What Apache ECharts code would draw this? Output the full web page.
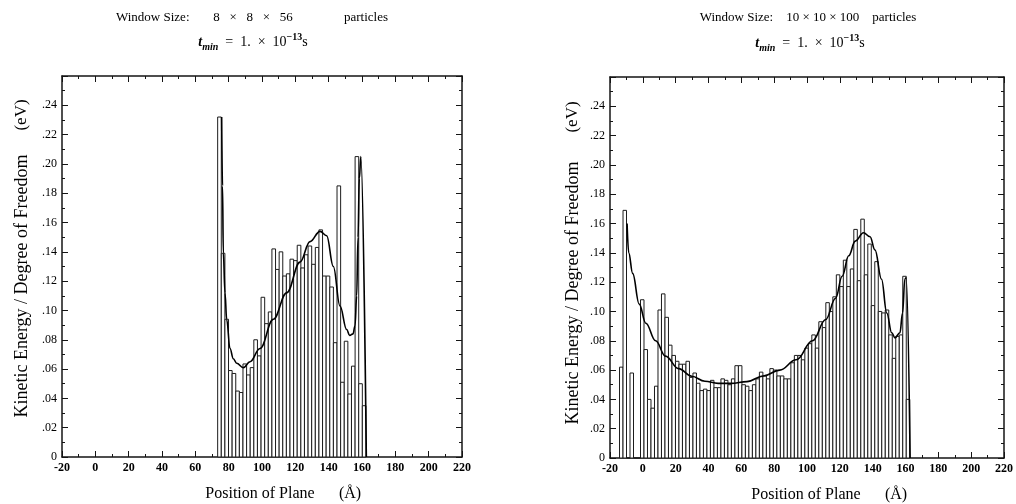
<!DOCTYPE html>
<html><head><meta charset="utf-8">
<script src="https://cdn.jsdelivr.net/npm/echarts@6/dist/echarts.min.js"></script>
<style>html,body{margin:0;padding:0;background:#fff}#c{width:1016px;height:504px}</style>
</head><body><div id="c"></div>
<script>
// ---------- data ----------
const xMin = -20, xMax = 220, xStep = 20;
const yMin = 0, yMax = 0.26, yStep = 0.02;

const titleLabel = 'Window Size:';
const leftWindow = '8   ×   8   ×   56';
const rightTitle = 'Window Size:    10 × 10 × 100    particles';
const titleUnit = 'particles';
const xName = 'Position of Plane';
const xUnit = '(Å)';
const yName = 'Kinetic Energy / Degree of Freedom';
const yUnit = '(eV)';

// left panel histogram (8x8x56)
const leftBinStart = 73.4;
const leftBinWidth = 2.17;
const leftHeights = [
  .232, .139, .094, .059, .057, .045, .044, .0635, .056, .061,
  .080, .069, .109, .091, .099, .142, .128, .140, .1235, .125,
  .135, .134, .1445, .129, .138, .144, .1315, .143, .155, .1235,
  .1235, .116, .078, .185, .051, .079, .043, .062, .205, .050,
  .035
];
const leftCurveX = [75.8, 76.3, 76.8, 77.8, 78.8, 80.8, 82.8, 84.8, 88.8, 92.8, 98.8, 106.8, 114.8, 122.8, 128.8, 134.8, 138.8, 142.8, 146.8, 150.8, 152.6, 154.6, 155.8, 156.8, 157.6, 158.4, 159.3, 162.6];
const leftCurveY = [.232, .185, .139, .112, .094, .074, .067, .064, .061, .065, .074, .094, .112, .133, .147, .154, .151, .130, .103, .087, .083, .084, .0895, .110, .150, .190, .205, 0];

// right panel histogram (10x10x100)
const rightBinStart = -14.2;
const rightBinWidth = 2.13;
const rightHeights = [
  .062, .169, 0, .058, 0, 0, .108, .074, .040, .034,
  .049, .101, .112, .096, .077, .070, .066, .064, .064, .066,
  .055, .058, .051, .046, .047, .046, .053, .048, .048, .054,
  .053, .050, .054, .063, .063, .050, .049, .046, .050, .054,
  .0586, .056, .054, .061, .060, .056, .056, .054, .054, .065,
  .070, .070, .067, .075, .078, .084, .075, .093, .089, .106,
  .100, .110, .125, .117, .135, .117, .129, .156, .121, .163,
  .125, .146, .104, .134, .100, .099, .101, .084, .068, .083,
  .084, .124, .040
];
const rightCurveX = [-9.6, -8.6, -6.2, -2.2, 1.8, 7.8, 13.8, 21.8, 29.8, 37.8, 45.8, 53.8, 63.4, 73.4, 83.4, 93.4, 103.4, 111.4, 117.4, 121.4, 125.4, 129.4, 134.4, 138.4, 141.4, 145.4, 148.6, 151.6, 153.6, 156.6, 158.2, 159.6, 160.4, 162.8];
const rightCurveY = [.160, .140, .126, .105, .092, .080, .0695, .061, .0558, .0524, .0509, .0509, .0521, .056, .060, .067, .080, .0945, .109, .124, .138, .148, .1537, .151, .142, .122, .099, .0855, .082, .0855, .099, .122, .123, 0];

// ---------- build ----------
const FONT = 'Liberation Serif';
const INK = '#141414';

function bins(start, width, heights) {
  return heights.map((h, i) => [start + i * width, start + (i + 1) * width, h]);
}
function pairs(xs, ys) { return xs.map((x, i) => [x, ys[i]]); }

const grids = [
  { left: 62, top: 76, width: 400, height: 381 },
  { left: 610, top: 77, width: 399, height: 381 }
];

function axisCommon(g, min, max, step) {
  return {
    type: 'value', gridIndex: g, min: min, max: max, interval: step,
    axisLine: { show: true, onZero: false, lineStyle: { color: INK, width: 1.5 } },
    axisTick: { show: true, inside: true, length: 6, lineStyle: { color: INK, width: 1 } },
    minorTick: { show: true, splitNumber: 2, length: 3, lineStyle: { color: INK, width: 1 } },
    splitLine: { show: false }, minorSplitLine: { show: false }
  };
}
function xAxes(g) {
  return [
    Object.assign(axisCommon(g, xMin, xMax, xStep), { position: 'bottom',
      axisLabel: { show: true, margin: 5, color: '#000', fontFamily: FONT, fontSize: 12, fontWeight: 'bold',
        showMinLabel: true, showMaxLabel: true } }),
    Object.assign(axisCommon(g, xMin, xMax, xStep), { position: 'top', axisLabel: { show: false } })
  ];
}
function yAxes(g) {
  return [
    Object.assign(axisCommon(g, yMin, yMax, yStep), { position: 'left',
      axisLabel: { show: true, margin: 5, color: '#000', fontFamily: FONT, fontSize: 12,
        formatter: v => v === 0 ? '0' : (v > 0.25 ? '' : v.toFixed(2).replace(/^0/, '')) } }),
    Object.assign(axisCommon(g, yMin, yMax, yStep), { position: 'right', axisLabel: { show: false } })
  ];
}

function histSeries(g, data) {
  return {
    type: 'custom', xAxisIndex: 2 * g, yAxisIndex: 2 * g, data: data, z: 2,
    encode: { x: [0, 1], y: 2 },
    renderItem: function (params, api) {
      const p0 = api.coord([api.value(0), api.value(2)]);
      const p1 = api.coord([api.value(1), 0]);
      return { type: 'rect',
        shape: { x: p0[0], y: p0[1], width: p1[0] - p0[0], height: p1[1] - p0[1] },
        style: { fill: '#fff', stroke: '#1c1c1c', lineWidth: 1 } };
    }
  };
}
function curveSeries(g, data) {
  return { type: 'line', xAxisIndex: 2 * g, yAxisIndex: 2 * g, data: data, z: 5,
    showSymbol: false, smooth: 0.4, smoothMonotone: 'x',
    lineStyle: { color: '#000', width: 1.6 } };
}

const LH = 20;
const tminRich = {
  n: { fontFamily: FONT, fontSize: 14, color: '#000', lineHeight: LH, verticalAlign: 'middle' },
  i: { fontFamily: FONT, fontSize: 14, fontStyle: 'italic', fontWeight: 'bold', color: '#000', lineHeight: LH, verticalAlign: 'middle' },
  sub: { fontFamily: FONT, fontSize: 10, fontStyle: 'italic', fontWeight: 'bold', color: '#000', lineHeight: LH, verticalAlign: 'bottom' },
  sup: { fontFamily: FONT, fontSize: 10, fontWeight: 'bold', color: '#000', lineHeight: LH, verticalAlign: 'top' }
};
const tminText = '{i|t}{sub|min}{n|  =  1.  ×  10}{sup|−13}{n|s}';

function txt(x, y, text, extra) {
  return { type: 'text', x: x, y: y,
    style: Object.assign({ text: text, fontFamily: FONT, fontSize: 16, fill: '#000', align: 'center', verticalAlign: 'middle' }, extra || {}) };
}
function rot(x, y, text, size) {
  return { type: 'text', x: x, y: y, rotation: Math.PI / 2,
    style: { text: text, fontFamily: FONT, fontSize: size, fill: '#000', align: 'center', verticalAlign: 'middle' } };
}

const graphic = [
  txt(116, 18, titleLabel, { fontSize: 13, align: 'left' }),
  txt(253, 18, leftWindow, { fontSize: 13 }),
  txt(388, 18, titleUnit, { fontSize: 13, align: 'right' }),
  txt(808, 18, rightTitle, { fontSize: 13 }),
  { type: 'text', x: 253, y: 42, style: { text: tminText, rich: tminRich, align: 'center', verticalAlign: 'middle' } },
  { type: 'text', x: 810, y: 43, style: { text: tminText, rich: tminRich, align: 'center', verticalAlign: 'middle' } },
  txt(260, 494, xName), txt(350, 494, xUnit),
  txt(806, 495, xName), txt(896, 495, xUnit),
  rot(22, 286, yName, 18), rot(22, 115, yUnit, 17),
  rot(573, 293, yName, 18), rot(573, 117, yUnit, 17)
];

const option = {
  animation: false,
  backgroundColor: '#fff',
  grid: grids,
  xAxis: xAxes(0).concat(xAxes(1)),
  yAxis: yAxes(0).concat(yAxes(1)),
  graphic: graphic,
  series: [
    histSeries(0, bins(leftBinStart, leftBinWidth, leftHeights)),
    curveSeries(0, pairs(leftCurveX, leftCurveY)),
    histSeries(1, bins(rightBinStart, rightBinWidth, rightHeights)),
    curveSeries(1, pairs(rightCurveX, rightCurveY))
  ]
};
const chart = echarts.init(document.getElementById('c'), null, { renderer: 'canvas' });
chart.setOption(option);
</script>
</body></html>
